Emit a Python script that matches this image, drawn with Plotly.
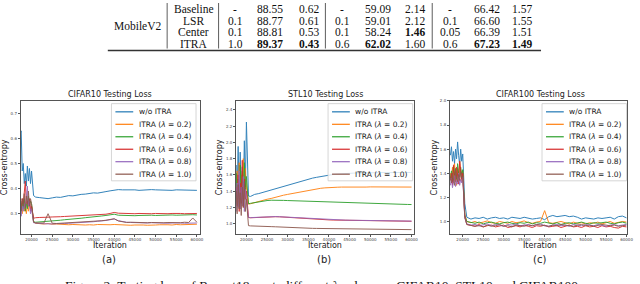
import plotly.graph_objects as go

W, H = 640, 284

# ---------------- data ----------------
ITERATIONS = [
    17000, 17250, 17500, 17750, 18000, 18250, 18500, 18750, 19000, 19250, 19500, 19750, 20000,
    20500, 21000, 22000, 23000, 24000, 25000, 26000, 27000, 28000, 29000,
    30000, 31000, 32000, 33000, 34000, 35000, 36000, 37000, 38000, 39000,
    40000, 41000, 42000, 43000, 44000, 45000, 46000, 47000, 48000, 49000,
    50000, 51000, 52000, 53000, 54000, 55000, 56000, 57000, 58000, 59000,
    60000,
]

SERIES_LABELS = ["w/o ITRA", "ITRA (<i>λ</i> = 0.2)", "ITRA (<i>λ</i> = 0.4)",
                 "ITRA (<i>λ</i> = 0.6)", "ITRA (<i>λ</i> = 0.8)", "ITRA (<i>λ</i> = 1.0)"]

# CIFAR10 testing loss
C10_WO = [0.60, 0.62, 0.63, 0.47, 0.50, 0.42, 0.46, 0.41, 0.49, 0.43, 0.48, 0.42, 0.47,
          0.372, 0.366, 0.364, 0.362, 0.360, 0.363, 0.366, 0.365, 0.369, 0.372,
          0.371, 0.375, 0.377, 0.378, 0.381, 0.383, 0.382, 0.386, 0.388, 0.391,
          0.394, 0.396, 0.395, 0.396, 0.394, 0.395, 0.393, 0.395, 0.394, 0.396,
          0.395, 0.394, 0.396, 0.395, 0.393, 0.395, 0.394, 0.396, 0.395, 0.394,
          0.393]
C10_L02 = [0.33, 0.31, 0.34, 0.30, 0.35, 0.31, 0.33, 0.30, 0.34, 0.31, 0.35, 0.32, 0.33,
           0.268, 0.262, 0.260, 0.259, 0.261, 0.258, 0.259, 0.257, 0.258, 0.256,
           0.257, 0.256, 0.257, 0.255, 0.256, 0.255, 0.257, 0.256, 0.255, 0.256,
           0.257, 0.256, 0.255, 0.256, 0.254, 0.255, 0.256, 0.255, 0.254, 0.256,
           0.255, 0.256, 0.257, 0.256, 0.255, 0.257, 0.256, 0.257, 0.258, 0.257,
           0.258]
C10_L04 = [0.32, 0.34, 0.31, 0.35, 0.32, 0.36, 0.31, 0.34, 0.32, 0.37, 0.33, 0.35, 0.34,
           0.268, 0.266, 0.267, 0.268, 0.270, 0.271, 0.273, 0.274, 0.276, 0.277,
           0.279, 0.280, 0.282, 0.284, 0.285, 0.287, 0.289, 0.291, 0.293, 0.296,
           0.298, 0.294, 0.293, 0.292, 0.293, 0.292, 0.293, 0.294, 0.293, 0.294,
           0.293, 0.294, 0.295, 0.294, 0.295, 0.294, 0.295, 0.296, 0.295, 0.296,
           0.295]
C10_L06 = [0.33, 0.35, 0.32, 0.36, 0.34, 0.38, 0.43, 0.34, 0.35, 0.33, 0.36, 0.31, 0.33,
           0.282, 0.284, 0.285, 0.284, 0.286, 0.287, 0.286, 0.288, 0.289, 0.290,
           0.291, 0.290, 0.292, 0.293, 0.294, 0.295, 0.296, 0.297, 0.298, 0.301,
           0.305, 0.302, 0.301, 0.300, 0.301, 0.300, 0.301, 0.300, 0.299, 0.300,
           0.301, 0.300, 0.301, 0.300, 0.301, 0.302, 0.301, 0.300, 0.301, 0.302,
           0.301]
C10_L08 = [0.30, 0.32, 0.29, 0.33, 0.31, 0.34, 0.32, 0.36, 0.41, 0.33, 0.35, 0.30, 0.32,
           0.264, 0.262, 0.261, 0.260, 0.258, 0.259, 0.260, 0.259, 0.261, 0.262,
           0.263, 0.262, 0.264, 0.265, 0.266, 0.268, 0.270, 0.271, 0.273, 0.276,
           0.279, 0.272, 0.268, 0.266, 0.265, 0.264, 0.265, 0.264, 0.263, 0.264,
           0.263, 0.264, 0.263, 0.262, 0.263, 0.264, 0.263, 0.262, 0.263, 0.264,
           0.263]
C10_L10 = [0.32, 0.35, 0.31, 0.36, 0.33, 0.38, 0.32, 0.37, 0.34, 0.39, 0.33, 0.36, 0.34,
           0.266, 0.263, 0.262, 0.263, 0.300, 0.262, 0.261, 0.262, 0.263, 0.264,
           0.263, 0.265, 0.266, 0.267, 0.268, 0.269, 0.271, 0.272, 0.274, 0.276,
           0.280, 0.271, 0.267, 0.265, 0.266, 0.265, 0.264, 0.265, 0.264, 0.265,
           0.264, 0.265, 0.264, 0.265, 0.264, 0.265, 0.264, 0.266, 0.265, 0.283,
           0.266]

# STL10 testing loss
STL_WO = [1.55, 1.60, 1.72, 1.35, 1.95, 1.30, 1.88, 1.25, 1.70, 1.40, 2.02, 1.45, 2.25,
          1.340, 1.335, 1.360, 1.370, 1.385, 1.400, 1.415, 1.430, 1.445, 1.460,
          1.475, 1.490, 1.505, 1.520, 1.535, 1.550, 1.560, 1.570, 1.580, 1.590,
          1.600, 1.605, 1.610, 1.615, 1.618, 1.620, 1.622, 1.623, 1.625, 1.625,
          1.627, 1.626, 1.628, 1.627, 1.629, 1.628, 1.630, 1.629, 1.630, 1.631,
          1.630]
STL_L02 = [1.40, 1.52, 1.30, 1.65, 1.25, 1.75, 1.35, 1.60, 1.22, 1.80, 1.30, 1.68, 1.45,
           1.240, 1.245, 1.260, 1.270, 1.285, 1.300, 1.310, 1.325, 1.335, 1.350,
           1.360, 1.370, 1.380, 1.390, 1.400, 1.410, 1.420, 1.430, 1.435, 1.440,
           1.445, 1.447, 1.448, 1.450, 1.449, 1.450, 1.451, 1.450, 1.451, 1.450,
           1.452, 1.451, 1.450, 1.451, 1.452, 1.450, 1.451, 1.450, 1.452, 1.451,
           1.450]
STL_L04 = [1.60, 1.45, 1.62, 1.30, 1.55, 1.20, 1.72, 1.35, 1.65, 1.28, 1.75, 1.40, 1.58,
           1.245, 1.250, 1.260, 1.270, 1.278, 1.284, 1.288, 1.290, 1.288, 1.286,
           1.284, 1.282, 1.283, 1.281, 1.279, 1.280, 1.278, 1.276, 1.274, 1.272,
           1.270, 1.268, 1.266, 1.264, 1.262, 1.260, 1.258, 1.256, 1.254, 1.252,
           1.250, 1.248, 1.246, 1.245, 1.243, 1.242, 1.240, 1.239, 1.238, 1.236,
           1.235]
STL_L06 = [1.30, 1.18, 1.45, 1.22, 1.60, 1.15, 1.50, 1.25, 1.78, 1.20, 1.55, 1.30, 1.40,
           1.075, 1.072, 1.075, 1.078, 1.082, 1.085, 1.086, 1.085, 1.084, 1.080,
           1.077, 1.074, 1.070, 1.067, 1.064, 1.060, 1.057, 1.054, 1.051, 1.048,
           1.046, 1.044, 1.043, 1.042, 1.041, 1.040, 1.039, 1.038, 1.037, 1.036,
           1.035, 1.034, 1.034, 1.033, 1.032, 1.032, 1.031, 1.030, 1.030, 1.029,
           1.029]
STL_L08 = [1.25, 1.40, 1.15, 1.50, 1.20, 1.65, 1.18, 1.45, 1.22, 1.58, 1.15, 1.42, 1.30,
           1.077, 1.074, 1.077, 1.080, 1.083, 1.086, 1.088, 1.087, 1.085, 1.082,
           1.079, 1.076, 1.072, 1.069, 1.066, 1.062, 1.059, 1.056, 1.053, 1.050,
           1.048, 1.046, 1.045, 1.044, 1.043, 1.042, 1.041, 1.040, 1.039, 1.038,
           1.037, 1.036, 1.036, 1.035, 1.034, 1.034, 1.033, 1.032, 1.032, 1.031,
           1.031]
STL_L10 = [1.35, 1.15, 1.40, 1.12, 1.48, 1.18, 1.38, 1.10, 1.45, 1.20, 1.52, 1.15, 1.30,
           0.975, 0.972, 0.972, 0.970, 0.968, 0.966, 0.963, 0.961, 0.958, 0.956,
           0.954, 0.952, 0.950, 0.948, 0.946, 0.944, 0.942, 0.941, 0.940, 0.939,
           0.938, 0.937, 0.936, 0.935, 0.935, 0.934, 0.933, 0.933, 0.932, 0.931,
           0.931, 0.930, 0.930, 0.929, 0.929, 0.928, 0.928, 0.927, 0.927, 0.926,
           0.926]

# CIFAR100 testing loss
C100_WO = [1.55, 1.62, 1.50, 1.58, 1.48, 1.60, 1.52, 1.66, 1.55, 1.47, 1.60, 1.50, 1.56,
           1.150, 1.035, 1.020, 1.030, 1.025, 1.035, 1.020, 1.030, 1.035, 1.025,
           1.030, 1.020, 1.035, 1.030, 1.025, 1.035, 1.030, 1.020, 1.025, 1.030,
           1.015, 1.040, 1.050, 1.040, 1.045, 1.050, 1.040, 1.045, 1.035, 1.020,
           1.030, 1.025, 1.020, 1.030, 1.025, 1.030, 1.035, 1.020, 1.040, 1.045,
           1.030]
C100_L02 = [1.40, 1.35, 1.45, 1.32, 1.48, 1.38, 1.30, 1.44, 1.36, 1.50, 1.40, 1.33, 1.42,
            1.060, 1.000, 0.990, 1.000, 0.985, 0.995, 1.005, 0.990, 0.985, 1.000,
            0.995, 0.985, 1.000, 0.990, 0.995, 1.005, 0.990, 0.985, 0.995, 1.000,
            1.090, 0.990, 0.985, 0.995, 1.000, 0.990, 0.980, 0.995, 0.985, 0.990,
            0.980, 0.990, 0.985, 0.995, 0.980, 0.990, 1.000, 0.985, 0.990, 1.000,
            0.995]
C100_L04 = [1.36, 1.42, 1.33, 1.46, 1.38, 1.44, 1.35, 1.48, 1.40, 1.37, 1.45, 1.39, 1.43,
            1.050, 1.000, 0.990, 0.985, 0.995, 0.980, 0.990, 0.995, 0.985, 0.980,
            0.990, 0.995, 0.985, 0.980, 0.990, 0.985, 0.995, 0.980, 0.990, 0.985,
            0.995, 0.985, 0.980, 0.990, 0.975, 0.985, 0.990, 0.980, 0.985, 0.995,
            0.985, 0.980, 0.990, 0.985, 0.990, 0.995, 0.985, 0.980, 0.990, 0.995,
            0.985]
C100_L06 = [1.34, 1.40, 1.30, 1.47, 1.36, 1.33, 1.45, 1.38, 1.31, 1.50, 1.42, 1.35, 1.40,
            1.040, 0.975, 0.965, 0.960, 0.975, 0.955, 0.965, 0.970, 0.955, 0.960,
            0.970, 0.950, 0.960, 0.965, 0.955, 0.970, 0.960, 0.950, 0.965, 0.960,
            0.970, 0.955, 0.960, 0.965, 0.950, 0.960, 0.970, 0.955, 0.960, 0.950,
            0.965, 0.955, 0.960, 0.950, 0.965, 0.955, 0.960, 0.950, 0.945, 0.960,
            0.955]
C100_L08 = [1.30, 1.36, 1.28, 1.33, 1.38, 1.29, 1.34, 1.31, 1.40, 1.30, 1.35, 1.32, 1.37,
            1.030, 0.980, 0.970, 0.975, 0.965, 0.970, 0.980, 0.965, 0.975, 0.970,
            0.960, 0.975, 0.970, 0.980, 0.965, 0.970, 0.975, 0.965, 0.970, 0.980,
            0.965, 0.960, 0.970, 0.975, 0.965, 0.970, 0.960, 0.975, 0.970, 0.965,
            0.975, 0.970, 0.965, 0.975, 0.970, 0.960, 0.970, 0.975, 0.965, 0.970,
            0.975]
C100_L10 = [1.37, 1.32, 1.40, 1.35, 1.30, 1.42, 1.36, 1.33, 1.39, 1.34, 1.41, 1.36, 1.38,
            1.035, 0.975, 0.970, 0.960, 0.965, 0.955, 0.970, 0.960, 0.965, 0.975,
            0.960, 0.965, 0.955, 0.970, 0.965, 0.960, 0.970, 0.965, 0.975, 0.970,
            0.965, 0.960, 0.970, 0.965, 0.975, 0.970, 0.965, 0.960, 0.970, 0.975,
            0.965, 0.970, 0.960, 0.965, 0.975, 0.970, 0.965, 0.970, 0.960, 0.965,
            0.970]

PANEL_TITLES = ["CIFAR10 Testing Loss", "STL10 Testing Loss", "CIFAR100 Testing Loss"]
PANEL_TAGS = ["(a)", "(b)", "(c)"]
X_TICKS = [20000, 25000, 30000, 35000, 40000, 45000, 50000, 55000, 60000]
Y_TICKS_A = [0.3, 0.4, 0.5, 0.6, 0.7]
Y_TICKS_B = [1.0, 1.2, 1.4, 1.6, 1.8, 2.0, 2.2, 2.4]
Y_TICKS_C = [1.0, 1.2, 1.4, 1.6, 1.8, 2.0]

# table
TABLE_MODEL = "MobileV2"
TABLE_METHODS = ["Baseline", "LSR", "Center", "ITRA"]
C10_PARAM = ["-", "0.1", "0.1", "1.0"]
C10_ACC = ["88.55", "88.77", "88.81", "89.37"]
C10_LOSSV = ["0.62", "0.61", "0.53", "0.43"]
STL_PARAM = ["-", "0.1", "0.1", "0.6"]
STL_ACC = ["59.09", "59.01", "58.24", "62.02"]
STL_LOSSV = ["2.14", "2.12", "1.46", "1.60"]
C100_PARAM = ["-", "0.1", "0.05", "0.6"]
C100_ACC = ["66.42", "66.60", "66.39", "67.23"]
C100_LOSSV = ["1.57", "1.55", "1.51", "1.49"]
# (column index, row index) of bold cells
BOLD_CELLS = [(1, 3), (2, 3), (4, 3), (5, 2), (7, 3), (8, 3)]

CAPTION = "Figure 2: Testing loss of Resnet18 w.r.t. different <i>λ</i> values on CIFAR10, STL10 and CIFAR100"

# ---------------- styling / layout ----------------
COLORS = ["#1f77b4", "#ff7f0e", "#2ca02c", "#d62728", "#9467bd", "#8c564b"]
SANS = "DejaVu Sans"
SERIF = "Liberation Serif"


def px(x):
    return x / W


def py(y):
    return 1 - y / H


panels = [
    dict(series=[C10_WO, C10_L02, C10_L04, C10_L06, C10_L08, C10_L10],
         xdom=(21, 202), xr=[17400, 60700], yr=[0.221, 0.749], yt=Y_TICKS_A,
         cx=111, ylab_x=4, leg_left=112.7),
    dict(series=[STL_WO, STL_L02, STL_L04, STL_L06, STL_L08, STL_L10],
         xdom=(238.7, 419), xr=[17500, 60700], yr=[0.878, 2.51], yt=Y_TICKS_B,
         cx=329, ylab_x=221.5, leg_left=331.7),
    dict(series=[C100_WO, C100_L02, C100_L04, C100_L06, C100_L08, C100_L10],
         xdom=(455, 633.7), xr=[16900, 60050], yr=[0.90, 2.0], yt=Y_TICKS_C,
         cx=546, ylab_x=439, leg_left=548),
]

PLOT_TOP, PLOT_BOTTOM = 99, 233

fig = go.Figure()
annotations = []
shapes = []
layout_axes = {}

for i, p in enumerate(panels):
    sfx = "" if i == 0 else str(i + 1)
    for j, vals in enumerate(p["series"]):
        fig.add_trace(go.Scatter(
            x=ITERATIONS, y=vals, mode="lines",
            line=dict(color=COLORS[j], width=1),
            opacity=0.9, showlegend=False, hoverinfo="skip",
            xaxis="x" + sfx, yaxis="y" + sfx))
    axis_common = dict(showline=True, mirror=True, linecolor="#555", linewidth=1,
                       showgrid=False, zeroline=False, ticks="outside", ticklen=2,
                       tickwidth=0.6, tickcolor="#555",
                       tickfont=dict(family=SANS, size=4, color="#444"))
    layout_axes["xaxis" + sfx] = dict(
        domain=[px(p["xdom"][0]), px(p["xdom"][1])], range=p["xr"],
        anchor="y" + sfx, tickvals=X_TICKS, ticktext=[str(t) for t in X_TICKS],
        **axis_common)
    layout_axes["yaxis" + sfx] = dict(
        domain=[py(PLOT_BOTTOM), py(PLOT_TOP)], range=p["yr"],
        anchor="x" + sfx, tickvals=p["yt"], ticktext=["%.1f" % t for t in p["yt"]],
        **axis_common)

    # titles and labels
    annotations.append(dict(text=PANEL_TITLES[i], x=px(p["cx"]), y=py(92.3),
                            font=dict(family=SANS, size=8, color="#222")))
    annotations.append(dict(text="Iteration", x=px(p["cx"]), y=py(245.5),
                            font=dict(family=SANS, size=8, color="#222")))
    annotations.append(dict(text=PANEL_TAGS[i], x=px(p["cx"] - 1), y=py(259),
                            font=dict(family=SANS, size=10, color="#222")))
    annotations.append(dict(text="Cross-entropy", x=px(p["ylab_x"]), y=py(166),
                            textangle=-90, font=dict(family=SANS, size=8, color="#222")))

    # legend (drawn manually so its compact spacing can be matched)
    L, T = p["leg_left"], 101.7
    shapes.append(dict(type="rect", xref="paper", yref="paper",
                       x0=px(L), x1=px(L + 85.5), y0=py(T + 78), y1=py(T),
                       line=dict(color="#cccccc", width=0.8),
                       fillcolor="rgba(255,255,255,0.8)", layer="above"))
    for j, lab in enumerate(SERIES_LABELS):
        ey = T + 8.3 + 12.6 * j
        shapes.append(dict(type="line", xref="paper", yref="paper",
                           x0=px(L + 4), x1=px(L + 22), y0=py(ey), y1=py(ey),
                           line=dict(color=COLORS[j], width=1.2), layer="above"))
        annotations.append(dict(text=lab, x=px(L + 25.5), y=py(ey), xanchor="left",
                                font=dict(family=SANS, size=7.5, color="#222")))

# ---------------- table ----------------
TABLE_COLS = [TABLE_METHODS, C10_PARAM, C10_ACC, C10_LOSSV, STL_PARAM, STL_ACC,
              STL_LOSSV, C100_PARAM, C100_ACC, C100_LOSSV]
COL_X = [196, 238, 272.5, 312, 346, 382, 420, 455, 492, 528]
ROW_Y = [6.3, 17.8, 29.4, 41.0]
TFONT = 11.5

annotations.append(dict(text=TABLE_MODEL, x=px(140), y=py(23.6),
                        font=dict(family=SERIF, size=TFONT, color="#111")))
for ci, col in enumerate(TABLE_COLS):
    for ri, txt in enumerate(col):
        t = "<b>%s</b>" % txt if (ci - 1, ri) in BOLD_CELLS else txt
        annotations.append(dict(text=t, x=px(COL_X[ci]), y=py(ROW_Y[ri]),
                                font=dict(family=SERIF, size=TFONT, color="#111")))
for vx in [169, 221, 329, 437]:
    shapes.append(dict(type="line", xref="paper", yref="paper",
                       x0=px(vx), x1=px(vx), y0=py(46), y1=py(0),
                       line=dict(color="#333", width=0.8)))
shapes.append(dict(type="line", xref="paper", yref="paper",
                   x0=px(109), x1=px(547), y0=py(48), y1=py(48),
                   line=dict(color="#333", width=1.6)))

# caption (cut by the bottom edge, as in the reference)
annotations.append(dict(text=CAPTION, x=px(325), y=py(276), yanchor="top",
                        font=dict(family=SERIF, size=13.5, color="#111")))

for a in annotations:
    a.setdefault("xref", "paper")
    a.setdefault("yref", "paper")
    a.setdefault("showarrow", False)
    a.setdefault("xanchor", "center")
    a.setdefault("yanchor", "middle")

fig.update_layout(
    width=W, height=H, margin=dict(l=0, r=0, t=0, b=0),
    paper_bgcolor="white", plot_bgcolor="white",
    showlegend=False, annotations=annotations, shapes=shapes,
    **layout_axes)

fig.write_html("out.html", config={"displayModeBar": False},
               post_script="document.body.style.margin='0';document.body.style.overflow='hidden';")
